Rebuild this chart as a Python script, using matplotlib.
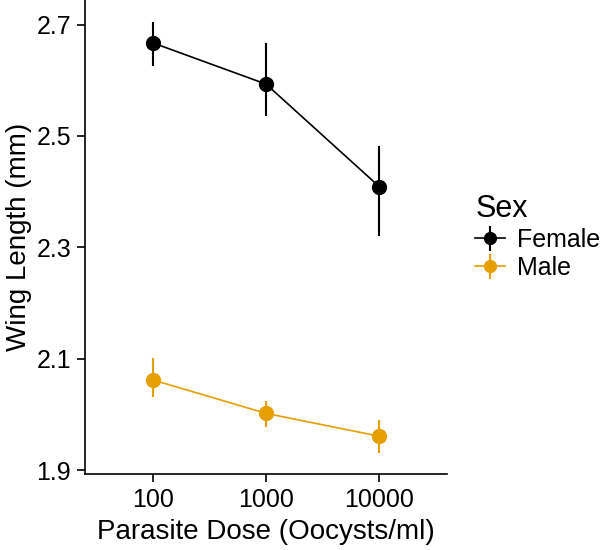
import numpy as np
import matplotlib.pyplot as plt

plt.rcParams['font.family'] = ['Liberation Sans', 'DejaVu Sans']

## data ##
doses = ['100', '1000', '10000']
female_mean = [2.667, 2.593, 2.409]
female_lo = [2.625, 2.536, 2.320]
female_hi = [2.704, 2.667, 2.482]
male_mean = [2.062, 2.002, 1.961]
male_lo = [2.031, 1.977, 1.931]
male_hi = [2.102, 2.024, 1.991]

colors = {'Female': '#000000', 'Male': '#E69F00'}

fig = plt.figure(figsize=(6.01, 5.5), dpi=100)
ax = fig.add_axes([0.1414, 0.138, 0.6026, 0.862])

x = np.arange(1, len(doses) + 1)
for name, mean, lo, hi in [('Female', female_mean, female_lo, female_hi),
                           ('Male', male_mean, male_lo, male_hi)]:
    mean = np.array(mean)
    yerr = [mean - np.array(lo), np.array(hi) - mean]
    ax.errorbar(x, mean, yerr=yerr, color=colors[name], marker='o', markersize=10,
                linewidth=1.2, elinewidth=1.5, capsize=0, label=name)

ax.set_xlim(0.4, 3.6)
ax.set_ylim(1.893, 2.744)
ax.set_xticks(x)
ax.set_xticklabels(doses)
ax.set_yticks([1.9, 2.1, 2.3, 2.5, 2.7])
ax.set_yticklabels(['1.9', '2.1', '2.3', '2.5', '2.7'])

for s in ['top', 'right']:
    ax.spines[s].set_visible(False)
for s in ['left', 'bottom']:
    ax.spines[s].set_linewidth(1.2)
ax.tick_params(axis='both', length=6, width=1.2, labelsize=18, colors='black', pad=4)

ax.set_xlabel('Parasite Dose (Oocysts/ml)', fontsize=20, labelpad=5)
ax.set_ylabel('Wing Length (mm)', fontsize=20, labelpad=3)

leg = ax.legend(title='Sex', loc='center left', bbox_to_anchor=(1.05, 0.5),
                frameon=False, fontsize=18, title_fontsize=22,
                handlelength=1.2, handletextpad=0.45, labelspacing=0.15,
                markerscale=0.85, borderaxespad=0.0)
leg._legend_box.align = 'left'

fig.savefig('out.png', dpi=100)
